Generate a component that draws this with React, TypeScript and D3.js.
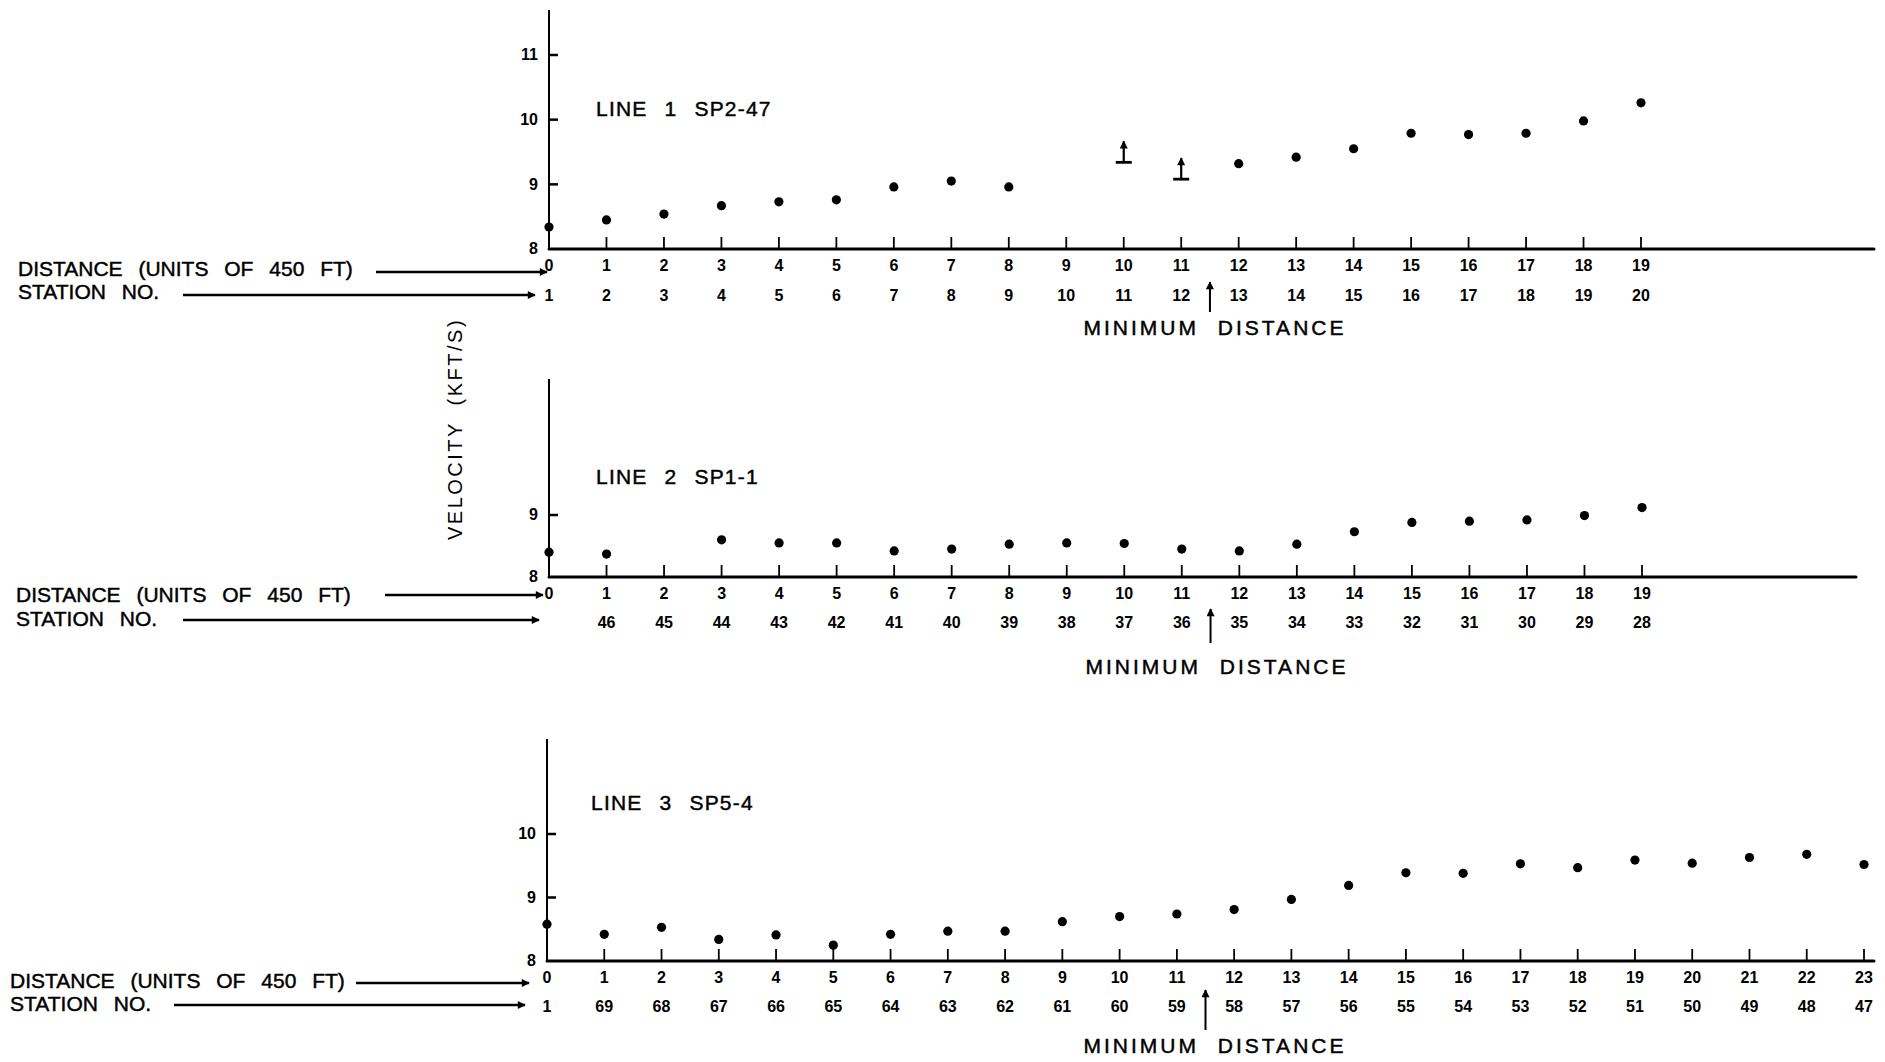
import React from 'react';
import * as d3 from 'd3';

// velocity profiles along three seismic lines
const line1Distance = [0, 1, 2, 3, 4, 5, 6, 7, 8, 9, 10, 11, 12, 13, 14, 15, 16, 17, 18, 19];
const line1Station = ['1', '2', '3', '4', '5', '6', '7', '8', '9', '10', '11', '12', '13', '14', '15', '16', '17', '18', '19', '20'];
const line1Velocity = [8.34, 8.45, 8.54, 8.67, 8.73, 8.76, 8.96, 9.05, 8.96, null, 9.34, 9.08, 9.32, 9.42, 9.55, 9.79, 9.77, 9.79, 9.98, 10.26];
const line1LowerBound = [10, 11];
const line1Ticks = [8, 9, 10, 11];

const line2Distance = [0, 1, 2, 3, 4, 5, 6, 7, 8, 9, 10, 11, 12, 13, 14, 15, 16, 17, 18, 19];
const line2Station = ['', '46', '45', '44', '43', '42', '41', '40', '39', '38', '37', '36', '35', '34', '33', '32', '31', '30', '29', '28'];
const line2Velocity = [8.4, 8.37, null, 8.6, 8.55, 8.55, 8.42, 8.45, 8.53, 8.55, 8.54, 8.45, 8.42, 8.53, 8.73, 8.88, 8.9, 8.92, 8.99, 9.12];
const line2LowerBound: number[] = [];
const line2Ticks = [8, 9];

const line3Distance = [0, 1, 2, 3, 4, 5, 6, 7, 8, 9, 10, 11, 12, 13, 14, 15, 16, 17, 18, 19, 20, 21, 22, 23];
const line3Station = ['1', '69', '68', '67', '66', '65', '64', '63', '62', '61', '60', '59', '58', '57', '56', '55', '54', '53', '52', '51', '50', '49', '48', '47'];
const line3Velocity = [8.58, 8.42, 8.53, 8.34, 8.41, 8.25, 8.42, 8.47, 8.47, 8.62, 8.7, 8.74, 8.81, 8.97, 9.19, 9.39, 9.38, 9.53, 9.47, 9.59, 9.54, 9.63, 9.68, 9.52];
const line3LowerBound: number[] = [];
const line3Ticks = [8, 9, 10];

const MIN_DISTANCE = 11.5;

const FONT = '"Liberation Sans", Arial, sans-serif';
// slight stroke to mimic the heavy lettering of the scan
const inked = { stroke: '#000', strokeWidth: 0.45 };

function Panel(props: any) {
  const { L, distance, station, velocity, lowerBound, ticks, title } = props;
  const x = d3.scaleLinear().domain(L.xDomain).range(L.xRange);
  const y = d3.scaleLinear().domain(L.yDomain).range(L.yRange);
  const x0 = L.xRange[0];
  const base = L.yRange[0];
  const ax = x(MIN_DISTANCE);

  return (
    <g>
      {/* axes */}
      <line x1={x0} x2={x0} y1={L.top} y2={base} stroke="#000" strokeWidth={2} />
      <line x1={x0} x2={L.axisEnd} y1={base} y2={base} stroke="#000" strokeWidth={3} strokeLinecap="round" />
      {distance.map((d: number) => (
        <line key={'t' + d} x1={x(d)} x2={x(d)} y1={base - 12} y2={base} stroke="#000" strokeWidth={1.8} />
      ))}
      {ticks.map((t: number) => (
        <g key={'y' + t}>
          {t !== L.yDomain[0] && <line x1={x0} x2={x0 + 9} y1={y(t)} y2={y(t)} stroke="#000" strokeWidth={2.5} />}
          <text x={x0 - 11} y={y(t) + 1} textAnchor="end" dominantBaseline="middle" fontSize={16} fontWeight="bold">{t}</text>
        </g>
      ))}

      {/* tick rows */}
      {distance.map((d: number, i: number) => (
        <g key={'l' + d}>
          <text x={x(d)} y={L.distY} textAnchor="middle" dominantBaseline="middle" fontSize={16} fontWeight="bold">{d}</text>
          <text x={x(d)} y={L.stationY} textAnchor="middle" dominantBaseline="middle" fontSize={16} fontWeight="bold">{station[i]}</text>
        </g>
      ))}

      {/* points */}
      {distance.map((d: number, i: number) => {
        const v = velocity[i];
        if (v == null) return null;
        if (lowerBound.includes(d)) {
          return (
            <g key={'p' + d} stroke="#000">
              <line x1={x(d) - 8} x2={x(d) + 8} y1={y(v)} y2={y(v)} strokeWidth={2.8} />
              <line x1={x(d)} x2={x(d)} y1={y(v)} y2={y(v) - 21} strokeWidth={2.2} markerEnd="url(#ah)" />
            </g>
          );
        }
        return <circle key={'p' + d} cx={x(d)} cy={y(v)} r={4.6} fill="#000" />;
      })}

      <text x={L.titleX} y={L.titleY} dominantBaseline="middle" fontSize={21} letterSpacing={1.2} wordSpacing={10} {...inked}>{title}</text>

      {/* minimum distance marker */}
      <line x1={ax} x2={ax} y1={L.arrowBottom} y2={L.arrowTop} stroke="#000" strokeWidth={2} markerEnd="url(#ah)" />
      <text x={L.minX} y={L.minY} textAnchor="middle" dominantBaseline="middle" fontSize={21} letterSpacing={3} wordSpacing={10} {...inked}>MINIMUM DISTANCE</text>

      {/* row captions */}
      <text x={L.capX} y={L.capDistY} dominantBaseline="middle" fontSize={21} wordSpacing={10} {...inked}>DISTANCE (UNITS OF 450 FT)</text>
      <line x1={L.distArrow[0]} x2={L.distArrow[1]} y1={L.distArrow[2]} y2={L.distArrow[2]} stroke="#000" strokeWidth={2.4} markerEnd="url(#ah)" />
      <text x={L.capX} y={L.capStationY} dominantBaseline="middle" fontSize={21} wordSpacing={10} {...inked}>STATION NO.</text>
      <line x1={L.stationArrow[0]} x2={L.stationArrow[1]} y1={L.stationArrow[2]} y2={L.stationArrow[2]} stroke="#000" strokeWidth={2.4} markerEnd="url(#ah)" />
    </g>
  );
}

const layout1 = {
  xDomain: [0, 19], xRange: [549, 1641], yDomain: [8, 11], yRange: [249, 55],
  top: 10, axisEnd: 1874, distY: 267, stationY: 297, arrowBottom: 312, arrowTop: 282,
  minX: 1215, minY: 329, titleX: 596, titleY: 110,
  capX: 18, capDistY: 270, capStationY: 293, distArrow: [376, 547, 272], stationArrow: [183, 535, 295],
};
const layout2 = {
  xDomain: [0, 19], xRange: [549, 1642], yDomain: [8, 9], yRange: [577, 515],
  top: 379, axisEnd: 1856, distY: 595, stationY: 624, arrowBottom: 643, arrowTop: 609,
  minX: 1217, minY: 668, titleX: 596, titleY: 478,
  capX: 16, capDistY: 596, capStationY: 620, distArrow: [385, 543, 595], stationArrow: [183, 539, 620],
};
const layout3 = {
  xDomain: [0, 23], xRange: [547, 1864], yDomain: [8, 10], yRange: [961, 834],
  top: 739, axisEnd: 1874, distY: 979, stationY: 1008, arrowBottom: 1030, arrowTop: 990,
  minX: 1215, minY: 1047, titleX: 591, titleY: 804,
  capX: 10, capDistY: 982, capStationY: 1005, distArrow: [356, 529, 983], stationArrow: [174, 525, 1005],
};

export default function App() {
  return (
    <svg width={1885} height={1062} style={{ position: 'absolute', left: 0, top: 0, background: '#fff' }}
      fontFamily={FONT} fill="#000">
      <defs>
        <marker id="ah" viewBox="0 0 10 10" refX={9} refY={5} markerUnits="userSpaceOnUse"
          markerWidth={11} markerHeight={8} orient="auto">
          <path d="M0,0L10,5L0,10Z" fill="#000" />
        </marker>
      </defs>
      <Panel L={layout1} distance={line1Distance} station={line1Station} velocity={line1Velocity}
        lowerBound={line1LowerBound} ticks={line1Ticks} title="LINE 1 SP2-47" />
      <Panel L={layout2} distance={line2Distance} station={line2Station} velocity={line2Velocity}
        lowerBound={line2LowerBound} ticks={line2Ticks} title="LINE 2 SP1-1" />
      <Panel L={layout3} distance={line3Distance} station={line3Station} velocity={line3Velocity}
        lowerBound={line3LowerBound} ticks={line3Ticks} title="LINE 3 SP5-4" />
      <text transform="translate(457, 429) rotate(-90)" textAnchor="middle" dominantBaseline="middle"
        fontSize={20} letterSpacing={2.5} wordSpacing={8}>VELOCITY (KFT/S)</text>
    </svg>
  );
}
